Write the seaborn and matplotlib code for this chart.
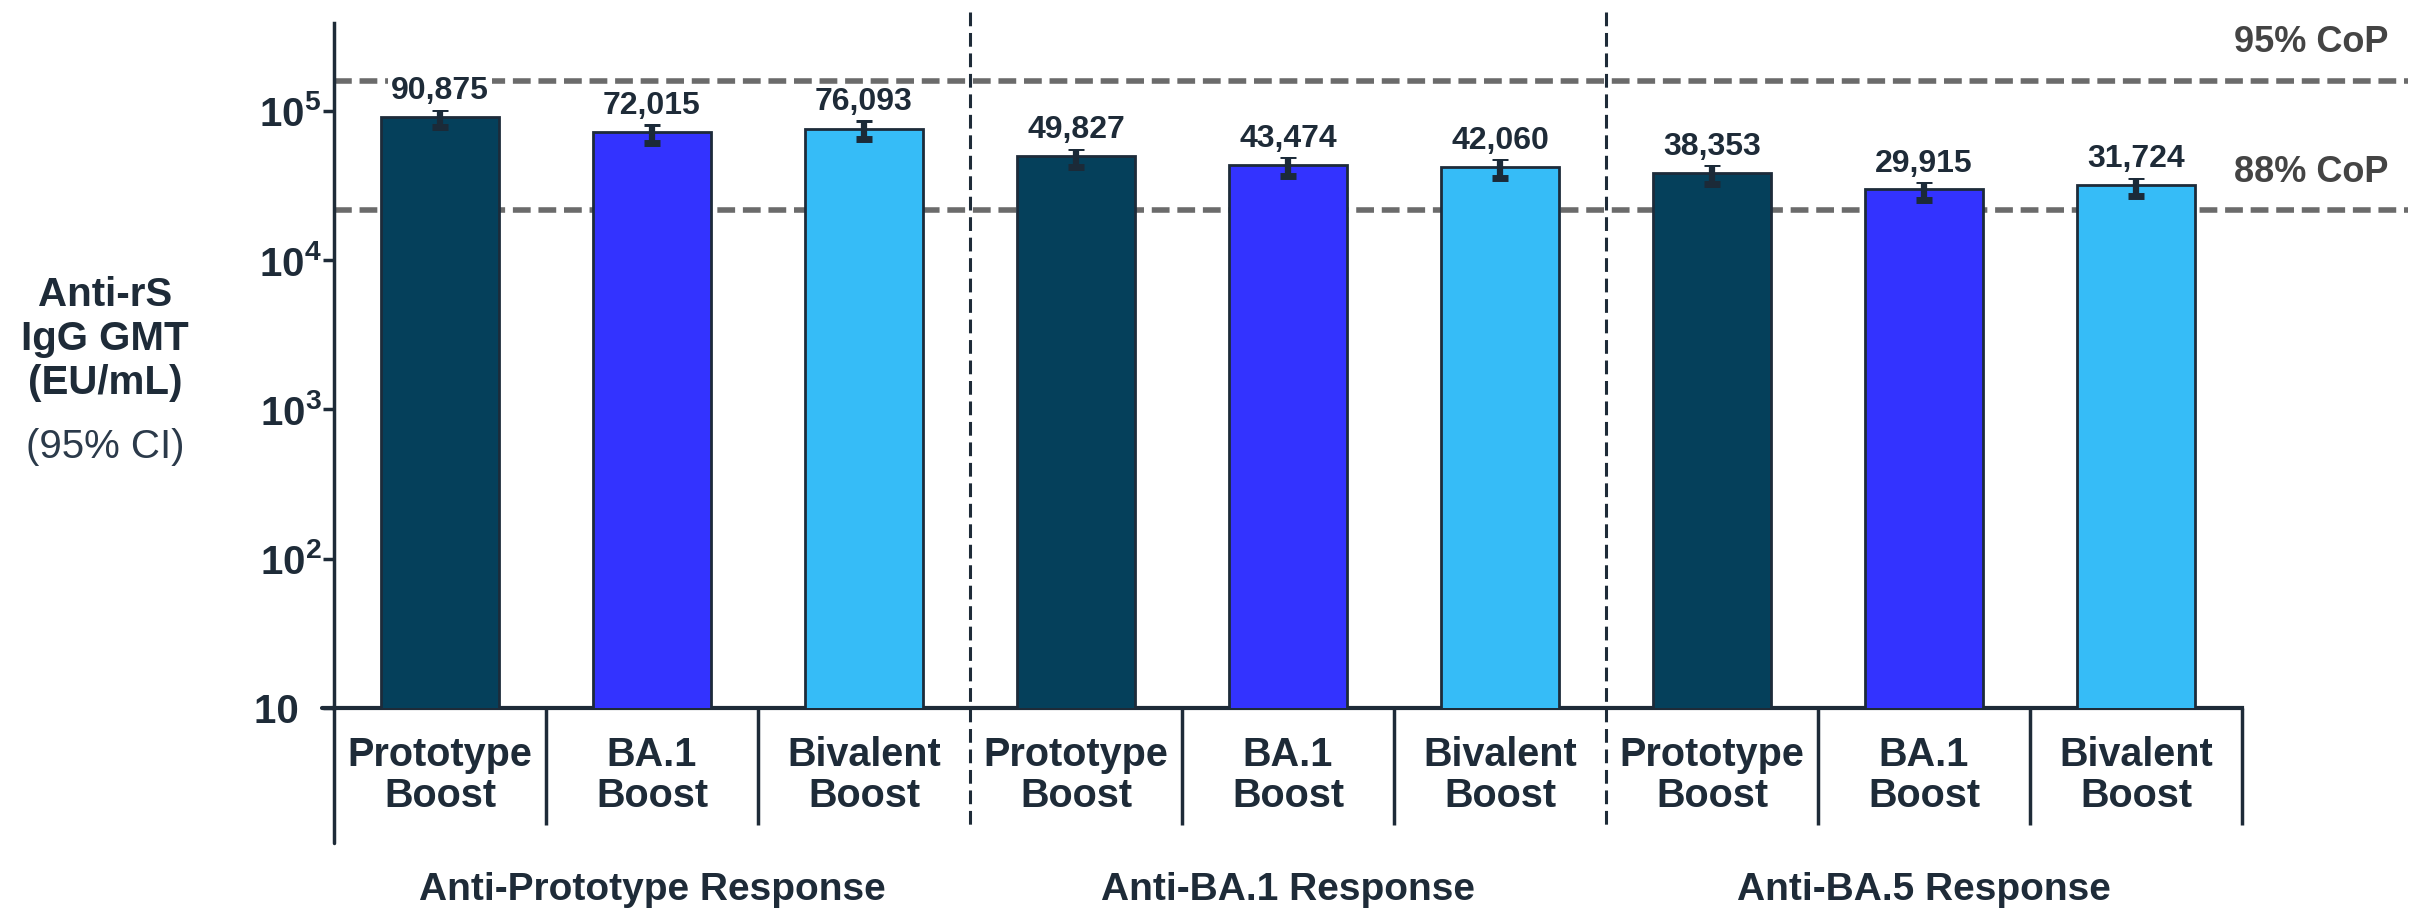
import numpy as np
import pandas as pd
import matplotlib
matplotlib.use("Agg")
import matplotlib.pyplot as plt
import matplotlib.transforms as mtransforms
import seaborn as sns

# ---------------- data ----------------
groups = ["Anti-Prototype Response", "Anti-BA.1 Response", "Anti-BA.5 Response"]
boosts = ["Prototype\nBoost", "BA.1\nBoost", "Bivalent\nBoost"]
gmt = [90875, 72015, 76093, 49827, 43474, 42060, 38353, 29915, 31724]
ci_low = [78300, 60800, 64500, 42000, 36800, 35600, 32500, 25400, 26900]
ci_high = [104900, 83600, 88800, 57500, 50400, 48900, 44800, 34500, 36700]
value_labels = ["90,875", "72,015", "76,093", "49,827", "43,474", "42,060", "38,353", "29,915", "31,724"]
cop_levels = [158500, 21700]
cop_labels = ["95% CoP", "88% CoP"]
ytick_vals = [10, 1e2, 1e3, 1e4, 1e5]
ytick_labels = ["10  ", r"$\mathbf{10^{2}}$", r"$\mathbf{10^{3}}$", r"$\mathbf{10^{4}}$", r"$\mathbf{10^{5}}$"]

colors = {"Prototype\nBoost": "#05405b", "BA.1\nBoost": "#3333ff", "Bivalent\nBoost": "#36bcf7"}
TXT = "#1e2b38"

keys = [f"{g}|{b}" for g in groups for b in boosts]
df = pd.DataFrame({
    "key": keys,
    "boost": [b for g in groups for b in boosts],
    "gmt": gmt,
})

sns.set_theme(style="white")
plt.rcParams["font.family"] = ["Liberation Sans", "DejaVu Sans"]
plt.rcParams["mathtext.fontset"] = "custom"
plt.rcParams["mathtext.rm"] = "Liberation Sans"
plt.rcParams["mathtext.bf"] = "Liberation Sans:bold"

W, H = 2428, 909
fig = plt.figure(figsize=(W / 100, H / 100), dpi=100)
x0, x1, y_top, y_bot = 334, 2408, 23, 708
ax = fig.add_axes([x0 / W, 1 - y_bot / H, (x1 - x0) / W, (y_bot - y_top) / H])
ax.set_yscale("log")

sns.barplot(data=df, x="key", y="gmt", hue="boost", order=keys, palette=colors,
            dodge=False, width=0.56, legend=False, errorbar=None, saturation=1,
            edgecolor="#1d2b3a", linewidth=2, ax=ax, zorder=3)

xpos = np.arange(len(keys))
gm = np.array(gmt, float)
yerr = [gm - np.array(ci_low), np.array(ci_high) - gm]
ax.errorbar(xpos, gm, yerr=yerr, fmt="none", ecolor="#1b2a38", elinewidth=4.5,
            capsize=6, capthick=5, zorder=5)

ax.set_ylim(10, 3.88e5)
ax.set_xlim(-0.5, -0.5 + (x1 - x0) / 212)

# CoP reference lines
for lvl, lab in zip(cop_levels, cop_labels):
    ax.axhline(lvl, color="#6b6b6b", lw=4, linestyle=(0, (3.2, 1.4)), zorder=2, clip_on=False)
for lab, yy in zip(cop_labels, [43, 173]):
    fig.text(2388 / W, 1 - yy / H, lab, ha="right", va="center", fontsize=26,
             fontweight="bold", color="#444444")

# value labels
for xi, hi, lab in zip(xpos, ci_high, value_labels):
    ax.annotate(lab, (xi, hi), xytext=(0, 1), textcoords="offset points",
                ha="center", va="bottom", fontsize=23, fontweight="bold", color=TXT,
                bbox=dict(boxstyle="square,pad=0.1", fc="white", ec="none"), zorder=6)

# axes styling
for s in ["top", "right"]:
    ax.spines[s].set_visible(False)
ax.spines["left"].set_linewidth(2.5)
ax.spines["left"].set_color(TXT)
ax.spines["bottom"].set_linewidth(3)
ax.spines["bottom"].set_color(TXT)
ax.spines["bottom"].set_bounds(-0.5, 8.5)

ax.set_yticks(ytick_vals)
ax.set_yticklabels(ytick_labels)
ax.yaxis.set_minor_locator(matplotlib.ticker.NullLocator())
ax.tick_params(axis="y", which="major", length=8, width=2.5, color=TXT, pad=1,
               labelsize=29, labelcolor=TXT, left=True)
for t in ax.get_yticklabels():
    t.set_fontweight("bold")

ax.set_xticks(xpos)
ax.set_xticklabels([b for g in groups for b in boosts], fontsize=28.5, fontweight="bold",
                   color=TXT, linespacing=1.12)
ax.tick_params(axis="x", which="major", length=0, pad=20)
div_pos = [0.5, 1.5, 3.5, 4.5, 6.5, 7.5, 8.5]
ax.set_xticks(div_pos, minor=True)
ax.tick_params(axis="x", which="minor", length=84, width=2.5, color=TXT, bottom=True)
ax.set_xlabel("")
ax.set_ylabel("")
ax.grid(False)

trans = mtransforms.blended_transform_factory(ax.transData, ax.transAxes)
hpx = y_bot - y_top
# left axis extension below
ax.plot([-0.5, -0.5], [0, (y_bot - 843) / hpx], transform=trans, color=TXT, lw=2.5,
        clip_on=False, zorder=4)
# x axis extends slightly left of y axis
ax.plot([-0.5 - 12 / 212, -0.5], [0, 0], transform=trans, color=TXT, lw=3,
        clip_on=False, zorder=4)
# group separators
for gx in [2.5, 5.5]:
    ax.plot([gx, gx], [(y_bot - 12) / hpx, (y_bot - 830) / hpx], transform=trans,
            color=TXT, lw=2.2, linestyle=(0, (4.5, 2.2)), clip_on=False, zorder=4)

# group labels
for gi, g in enumerate(groups):
    ax.text(gi * 3 + 1, (y_bot - 890) / hpx, g, transform=trans, ha="center", va="center",
            fontsize=28, fontweight="bold", color=TXT)

# y-axis title
fig.text(105 / W, 1 - 339 / H, "Anti-rS\nIgG GMT\n(EU/mL)", ha="center", va="center",
         fontsize=29, fontweight="bold", color=TXT, linespacing=1.2)
fig.text(105 / W, 1 - 447 / H, "(95% CI)", ha="center", va="center",
         fontsize=29, color="#2b3a4a")

fig.savefig("out.png", dpi=100)
